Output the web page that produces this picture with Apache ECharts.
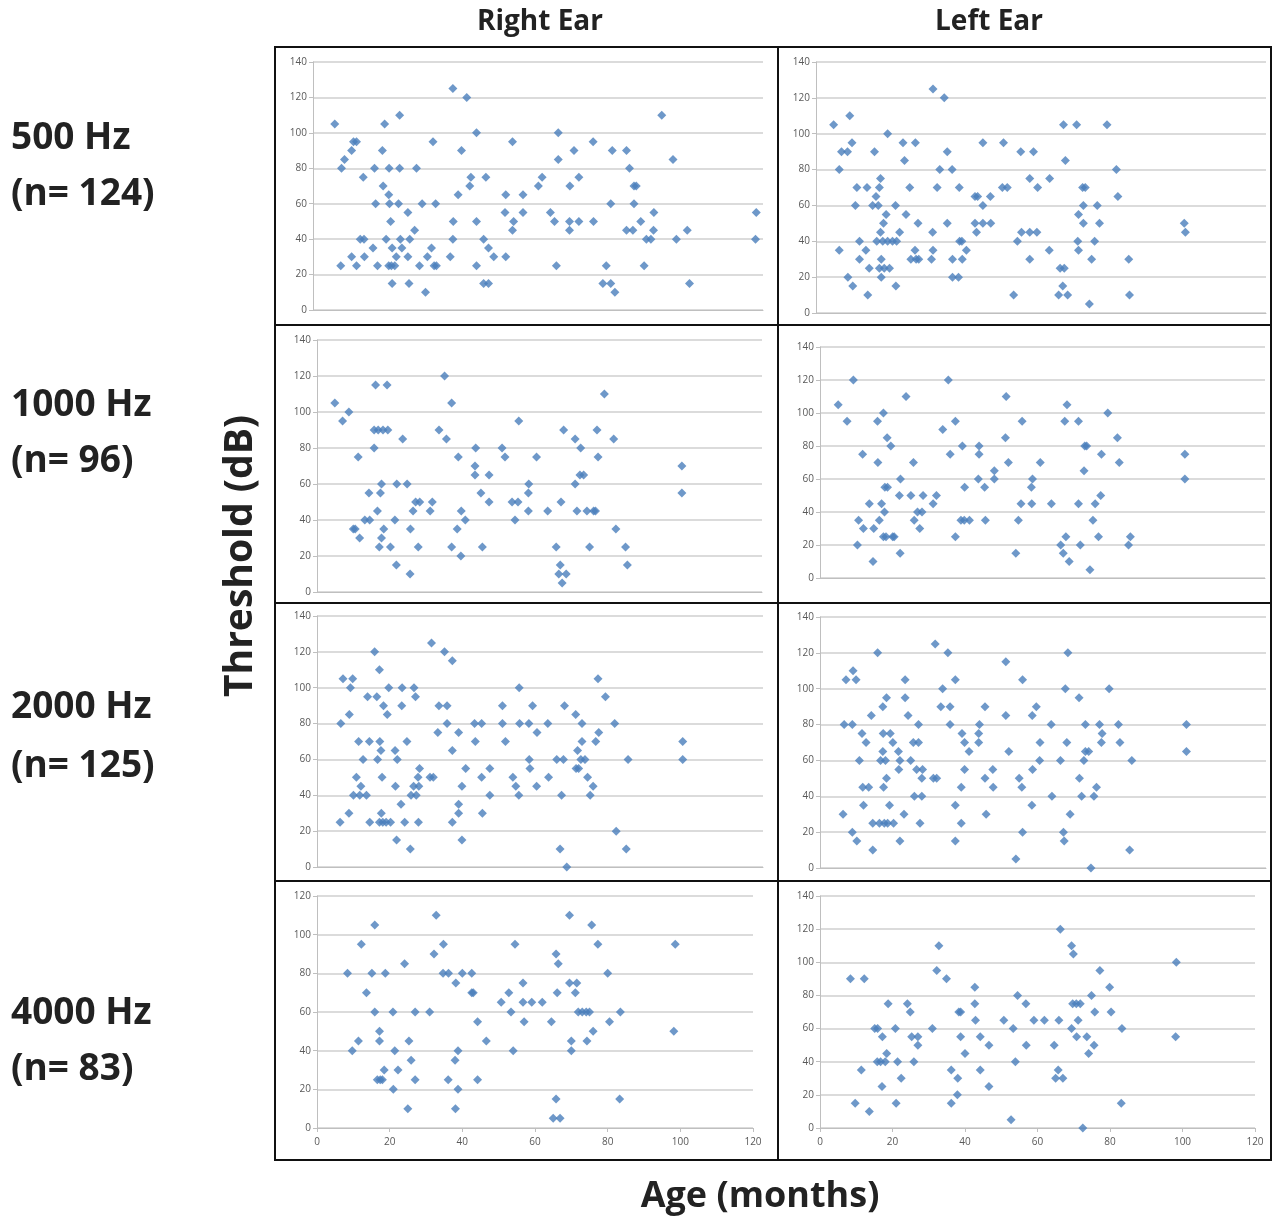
<!DOCTYPE html>
<html>
<head>
<meta charset="utf-8">
<title>Threshold vs age</title>
<script src="https://cdn.jsdelivr.net/npm/echarts@6/dist/echarts.min.js"></script>
<style>
  html, body { margin: 0; padding: 0; background: #fff; }
  #chart { width: 1272px; height: 1222px; }
</style>
</head>
<body>
<div id="chart"></div>
<script>
// row / column labels
var earLabels = ['Right Ear', 'Left Ear'];
var freqLabels = ['500 Hz', '1000 Hz', '2000 Hz', '4000 Hz'];
var nLabels = ['(n= 124)', '(n= 96)', '(n= 125)', '(n= 83)'];
var xTicks = [0, 20, 40, 60, 80, 100, 120];
var yMax = [140, 140, 140, 140, 140, 140, 120, 140];

// [age (months), threshold (dB)]
var r500 = [[5.8,105],[7.4,25],[7.6,80],[8.4,85],[10.3,90],[10.8,95],[11.6,95],[10.3,30],[11.6,25],[12.6,40],[13.6,40],[13.4,75],[13.7,30],[16,35],[16.4,80],[16.7,60],[17.2,25],[18.5,90],[19.1,105],[18.7,70],[19.5,40],[20.2,65],[20.3,80],[20.4,60],[20.7,50],[20.2,25],[20.9,25],[21.8,25],[21.1,35],[21.1,15],[22.2,30],[22.8,60],[23.1,80],[23.1,110],[23.3,40],[23.7,35],[25.3,55],[25.3,30],[25.6,15],[25.8,40],[27.1,45],[27.6,80],[28.4,25],[29.1,60],[30,10],[30.5,30],[31.6,35],[32,95],[32.3,25],[32.9,25],[32.7,60],[36.6,30],[37.3,125],[37.4,50],[37.3,40],[38.7,65],[39.6,90],[41,120],[41.8,70],[42.1,75],[43.6,100],[43.6,50],[43.6,25],[45.5,40],[46.1,75],[46.8,35],[45.5,15],[46.8,15],[48.2,30],[51.4,30],[51.2,55],[51.4,65],[53.2,95],[53.5,50],[53.2,45],[56,65],[56,55],[60.1,70],[61.1,75],[63.3,55],[64.4,50],[64.9,25],[65.4,100],[65.4,85],[68.5,70],[68.4,45],[68.4,50],[69.6,90],[70.9,75],[70.9,50],[74.7,95],[74.8,50],[78.2,25],[77.3,15],[79.4,15],[80.5,10],[79.4,60],[79.8,90],[83.6,90],[84.4,80],[83.6,45],[85.3,45],[85.6,70],[86.2,70],[85.6,60],[87.4,50],[88.3,25],[88.9,40],[90.1,40],[90.8,45],[90.9,55],[93,110],[96,85],[96.9,40],[99.8,45],[100.4,15],[118.2,55],[118,40]];

var l500 = [[4.7,105],[6.2,80],[6.2,35],[6.8,90],[8.4,90],[9,110],[9.6,95],[8.5,20],[9.8,15],[10.5,60],[10.9,70],[11.6,40],[11.6,30],[13.6,70],[13.3,35],[13.8,10],[14.2,25],[15.6,90],[15.1,60],[16,65],[16.6,60],[16.9,70],[17.2,75],[16.2,40],[17.2,45],[17.4,30],[16.9,25],[17.4,20],[18,50],[18.7,55],[19.1,100],[17.8,40],[19.1,40],[20.4,40],[18.2,25],[19.6,25],[21.2,60],[21.5,40],[21.3,15],[22.3,45],[23.2,95],[23.6,85],[24,55],[25,70],[25.3,30],[26.5,95],[26.4,35],[26.7,30],[27.2,50],[27.4,30],[30.8,30],[31.1,45],[31.2,35],[31.2,125],[32.3,70],[33,80],[34.2,120],[35,90],[35,50],[36.3,80],[36.4,30],[36.4,20],[38,20],[38.2,70],[38.3,40],[38.9,40],[39,30],[40.1,35],[42.4,65],[43.1,65],[42.4,50],[42.8,45],[44.5,95],[44.5,60],[44.5,50],[46.5,65],[46.6,50],[50,95],[49.7,70],[51,70],[52.7,10],[53.7,40],[54.6,90],[54.8,45],[57,75],[57,45],[57,30],[58,90],[58.9,45],[59.1,70],[62.3,75],[62.2,35],[64.7,10],[65.8,15],[65.1,25],[66.2,25],[67.1,10],[66,105],[66.5,85],[69.5,105],[70,55],[69.8,40],[70,35],[71.1,70],[71.8,70],[71.3,60],[71.3,50],[72.9,5],[73.5,30],[74.3,40],[75,60],[75.6,50],[77.6,105],[80.1,80],[80.5,65],[83.4,30],[83.6,10],[98.2,50],[98.5,45]];

var r1000 = [[4.8,105],[6.9,95],[8.6,100],[9.8,35],[10.3,35],[11.1,75],[11.5,30],[12.9,40],[14.2,40],[14,55],[15.4,80],[15.4,90],[15.8,115],[16.5,90],[17.8,90],[19.1,90],[18.9,115],[16.3,45],[17.1,55],[17.4,60],[17.4,30],[18,35],[16.8,25],[19.8,25],[21,40],[21.5,60],[21.4,15],[23.1,85],[24.3,60],[25.2,35],[25.1,10],[25.9,45],[26.6,50],[27.7,50],[27.3,25],[30.5,45],[31.1,50],[32.9,90],[34.4,120],[34.9,85],[36.3,105],[36.3,25],[38.1,75],[37.8,35],[38.9,45],[40,40],[38.8,20],[42.8,80],[42.6,70],[42.6,65],[44.2,55],[44.6,25],[46.4,65],[46.4,50],[49.9,80],[50.7,75],[52.6,50],[54.2,50],[53.4,40],[54.4,95],[57.1,60],[57,55],[57,45],[59.2,75],[62.2,45],[64.5,25],[65.6,15],[65.2,10],[67.2,10],[66.1,5],[65.8,50],[66.5,90],[69.6,85],[69.6,60],[70.1,45],[71.1,80],[70.9,65],[71.9,65],[72.8,45],[74.6,45],[75.1,45],[73.5,25],[75.5,90],[75.8,75],[77.5,110],[80,85],[80.6,35],[83.2,25],[83.7,15],[98.4,70],[98.4,55]];

var l1000 = [[4.9,105],[7.3,95],[9,120],[11.5,75],[10.4,35],[11.7,30],[10.1,20],[13.3,45],[14.5,30],[14.3,10],[15.5,95],[15.6,70],[17.1,100],[18.1,85],[19.1,80],[16.6,45],[16,35],[17.4,40],[17.5,55],[18.2,55],[17.1,25],[17.8,25],[19.6,25],[20,25],[21.7,60],[21.4,50],[21.6,15],[23.2,110],[24.5,50],[25.2,70],[25.4,35],[26.3,40],[27.5,40],[26.9,30],[27.8,50],[30.5,45],[31.4,50],[33.1,90],[34.6,120],[35.1,75],[36.5,95],[36.5,25],[38.4,80],[39,55],[38,35],[38.9,35],[40.3,35],[42.9,80],[42.9,75],[42.7,60],[44.4,55],[44.6,35],[47,65],[47,60],[50.2,110],[50,85],[50.8,70],[52.8,15],[53.5,35],[54.2,45],[54.5,95],[57.3,60],[57,55],[57.1,45],[59.4,70],[62.4,45],[64.9,20],[65.6,15],[67.2,10],[66.3,25],[66,95],[66.6,105],[69.7,95],[69.7,45],[70.2,20],[71.4,80],[71.9,80],[71.2,65],[74.2,45],[73.6,35],[75.1,25],[72.8,5],[75.7,50],[75.9,75],[77.6,100],[80.2,85],[80.7,70],[83.2,20],[83.7,25],[98.4,75],[98.4,60]];

var r2000 = [[6.2,25],[6.4,80],[7,105],[8.6,30],[8.7,85],[9,100],[9.6,105],[9.8,40],[10.6,50],[11.2,70],[11.5,40],[11.8,45],[12.4,60],[13.3,40],[13.6,95],[14.1,70],[14.2,25],[15.5,120],[16.1,95],[16.3,60],[16.8,110],[16.9,70],[17.2,65],[17.5,50],[17.9,90],[18.9,85],[19.3,100],[16.8,25],[17.3,30],[17.7,25],[18.6,25],[19.8,25],[21,65],[21.6,60],[21.1,45],[21.4,15],[22.6,35],[22.9,100],[22.8,90],[23.6,25],[24.2,70],[25.1,10],[25.3,40],[26.1,100],[26.5,95],[26,45],[26.7,40],[27.2,50],[27.4,45],[27.6,55],[27.3,25],[30.4,50],[31.3,50],[30.8,125],[32.5,75],[32.8,90],[35,90],[34.3,120],[35,80],[36.4,115],[36.4,65],[36.4,25],[38.1,75],[38.1,35],[38.1,30],[39,45],[39,15],[40,55],[42.4,80],[44.3,80],[42.6,70],[44.3,50],[44.5,30],[46.5,55],[46.5,40],[49.9,90],[49.9,80],[50.7,70],[52.7,50],[53.5,45],[54.3,40],[54.4,100],[54.5,80],[57,80],[57.1,60],[57.3,55],[58,90],[59.2,75],[59.1,45],[62.1,80],[62.3,50],[64.5,60],[66.3,60],[65.8,40],[65.4,10],[67.2,0],[66.6,90],[69.6,85],[70.1,65],[69.7,55],[70.4,55],[71.3,80],[71.3,70],[71,60],[72.1,60],[72.8,50],[74.3,45],[73.5,40],[75,70],[75.8,75],[75.6,105],[77.6,95],[80.1,80],[80.5,20],[83.2,10],[83.7,60],[98.4,70],[98.4,60]];

var l2000 = [[6.2,30],[6.5,80],[7,105],[8.7,80],[8.9,110],[9.7,105],[8.7,20],[9.9,15],[10.6,60],[11.3,75],[11.5,45],[11.7,35],[12.4,70],[13.1,45],[13.8,85],[14.2,25],[14.2,10],[15.5,120],[16.9,90],[17.9,95],[17,75],[18.9,75],[16.9,65],[16.3,60],[17.6,60],[17.1,45],[17.9,50],[18.7,35],[19.6,70],[16,25],[17.3,25],[18.2,25],[19.8,25],[21.1,65],[21.2,55],[21.5,60],[21.5,15],[22.6,30],[22.9,105],[22.9,95],[23.7,85],[24.4,60],[25.4,40],[25.1,70],[26.5,70],[26,55],[27.6,55],[26.5,80],[27.4,50],[27.4,40],[26.9,25],[30.5,50],[31.4,50],[31,125],[32.5,90],[33,100],[34.4,120],[35,90],[35,80],[36.4,105],[36.4,35],[36.4,15],[38.2,75],[38.9,70],[38.9,55],[38,45],[38,25],[40.1,65],[42.9,80],[42.7,75],[42.7,70],[44.4,90],[44.4,50],[44.7,30],[46.5,55],[46.6,45],[50,115],[50,85],[50.8,65],[52.7,5],[53.6,50],[54.3,45],[54.5,105],[54.5,20],[57.1,85],[58.2,90],[57.2,55],[57,35],[59.2,70],[59.1,60],[62.2,80],[62.4,40],[64.7,60],[66,100],[66.7,120],[66.4,70],[65.5,20],[65.7,15],[67.3,30],[69.7,95],[69.8,50],[70.4,40],[71.4,80],[71,60],[71.4,65],[72.3,65],[72.9,0],[73.7,40],[74.4,45],[75.2,80],[75.9,75],[75.7,70],[77.8,100],[80.3,80],[80.7,70],[83.3,10],[83.9,60],[98.6,80],[98.6,65]];

var r4000 = [[8.4,80],[9.7,40],[11.4,45],[12.2,95],[13.6,70],[15.1,80],[15.9,105],[15.9,60],[17.2,50],[17.2,45],[16.6,25],[17.4,25],[18,25],[18.5,30],[18.8,80],[20.9,60],[21.4,40],[21,20],[22.3,30],[24.1,85],[25,10],[25.3,45],[25.9,35],[27,60],[27,25],[31,60],[32.2,90],[32.8,110],[34.8,95],[34.7,80],[36.2,80],[36.1,25],[38,35],[38.2,75],[38.8,40],[38.8,20],[38.1,10],[40,80],[42.6,80],[42.6,70],[43,70],[44.2,55],[44.2,25],[46.6,45],[50.7,65],[52.8,70],[53.4,60],[54,40],[54.5,95],[56.7,75],[56.7,65],[57,55],[59.1,65],[62,65],[64.5,55],[65,5],[66.9,5],[65.8,15],[65.8,90],[66.4,85],[66.1,70],[69.5,110],[69.5,75],[71.5,75],[71.1,70],[70,45],[70,40],[71.9,60],[73,60],[74.1,60],[75,60],[74.3,45],[76,50],[75.6,105],[77.3,95],[80,80],[80.5,55],[83.5,60],[83.3,15],[98.6,95],[98.2,50]];

var l4000 = [[8.4,90],[12.2,90],[9.7,15],[11.4,35],[13.6,10],[15.1,60],[15.9,60],[17.2,55],[15.8,40],[16.7,40],[18,40],[18.4,45],[17.1,25],[18.8,75],[20.8,60],[21.4,40],[21,15],[22.4,30],[24.1,75],[24.9,70],[25.3,55],[25.9,40],[27,55],[27,50],[31,60],[32.2,95],[32.8,110],[34.9,90],[36.2,35],[36.2,15],[38,30],[37.9,20],[38.3,70],[38.8,70],[38.8,55],[40,45],[42.7,85],[42.7,75],[42.9,65],[44.2,55],[44.2,35],[46.6,50],[46.6,25],[50.7,65],[52.7,5],[53.3,60],[53.9,40],[54.5,80],[56.8,75],[56.9,50],[59,65],[61.9,65],[64.6,50],[65,30],[65.7,35],[67,30],[65.9,65],[66.3,120],[69.4,110],[69.9,105],[69.4,60],[69.7,75],[70.7,75],[71.8,75],[71.2,65],[70.8,55],[72.5,0],[73.6,55],[74.1,45],[74.9,80],[75.6,50],[75.8,70],[77.2,95],[79.9,85],[80.3,70],[83.3,60],[83.1,15],[98.3,100],[98.1,55]];

var panels = [r500, l500, r1000, l1000, r2000, l2000, r4000, l4000];

// plot areas of each panel (px)
var plotBoxes = [
  { left: 313, top: 62, width: 450, height: 248 },
  { left: 816, top: 62, width: 450, height: 251 },
  { left: 317, top: 340, width: 445, height: 252 },
  { left: 820, top: 347, width: 445, height: 231 },
  { left: 317, top: 616, width: 446, height: 251 },
  { left: 820, top: 617, width: 446, height: 251 },
  { left: 317, top: 896, width: 436, height: 232 },
  { left: 820, top: 896, width: 435, height: 232 }
];

var chart = echarts.init(document.getElementById('chart'), null, { renderer: 'canvas' });

var grids = [], xAxes = [], yAxes = [], series = [];
for (var i = 0; i < panels.length; i++) {
  var isBottom = i >= 6;
  grids.push(Object.assign({ containLabel: false }, plotBoxes[i]));
  xAxes.push({
    type: 'value', gridIndex: i, min: xTicks[0], max: xTicks[xTicks.length - 1], interval: 20,
    axisLine: { show: true, lineStyle: { color: '#bfbfbf', width: 1 } },
    axisTick: { show: isBottom, length: 4, lineStyle: { color: '#bfbfbf' } },
    axisLabel: { show: isBottom, color: '#595959', fontSize: 10, fontFamily: 'Open Sans', margin: 9 },
    splitLine: { show: false }
  });
  yAxes.push({
    type: 'value', gridIndex: i, min: 0, max: yMax[i], interval: 20,
    axisLine: { show: true, lineStyle: { color: '#bfbfbf', width: 1 } },
    axisTick: { show: true, length: 4, lineStyle: { color: '#bfbfbf' } },
    axisLabel: { color: '#595959', fontSize: 10, fontFamily: 'Open Sans', margin: 6 },
    splitLine: { show: true, lineStyle: { color: '#cfcfcf', width: 1.5 } }
  });
  series.push({
    type: 'scatter', xAxisIndex: i, yAxisIndex: i, data: panels[i],
    symbol: 'diamond', symbolSize: 9,
    itemStyle: { color: '#4a7ebb' },
    animation: false
  });
}

// frame + labels
var frameColor = '#111';
var graphics = [
  { type: 'rect', shape: { x: 275, y: 47, width: 996, height: 1113 }, style: { fill: 'none', stroke: frameColor, lineWidth: 2 }, z: 100 },
  { type: 'line', shape: { x1: 778, y1: 47, x2: 778, y2: 1160 }, style: { stroke: frameColor, lineWidth: 2 }, z: 100 },
  { type: 'line', shape: { x1: 275, y1: 325, x2: 1272, y2: 325 }, style: { stroke: frameColor, lineWidth: 2 }, z: 100 },
  { type: 'line', shape: { x1: 275, y1: 603, x2: 1272, y2: 603 }, style: { stroke: frameColor, lineWidth: 2 }, z: 100 },
  { type: 'line', shape: { x1: 275, y1: 881, x2: 1272, y2: 881 }, style: { stroke: frameColor, lineWidth: 2 }, z: 100 }
];

function label(text, x, y, size, align, rot) {
  return {
    type: 'text', x: x, y: y, rotation: rot || 0, z: 100,
    style: {
      text: text, x: 0, y: 0, fill: '#222',
      font: 'bold ' + size + 'px "Open Sans", sans-serif',
      align: align, verticalAlign: 'middle',
      textAlign: align, textVerticalAlign: 'middle'
    }
  };
}

graphics.push(label(earLabels[0], 540, 22, 28, 'center'));
graphics.push(label(earLabels[1], 989, 22, 28, 'center'));
var rowY = [[138, 194], [405, 461], [707, 766], [1013, 1069]];
for (var r = 0; r < freqLabels.length; r++) {
  graphics.push(label(freqLabels[r], 11, rowY[r][0], 37, 'left'));
  graphics.push(label(nLabels[r], 11, rowY[r][1], 37, 'left'));
}
graphics.push(label('Threshold (dB)', 241, 556, 39, 'center', Math.PI / 2));
graphics.push(label('Age (months)', 760, 1197, 36, 'center'));

chart.setOption({
  animation: false,
  grid: grids,
  xAxis: xAxes,
  yAxis: yAxes,
  series: series,
  graphic: graphics
});

window.addEventListener('resize', chart.resize);
</script>
</body>
</html>
